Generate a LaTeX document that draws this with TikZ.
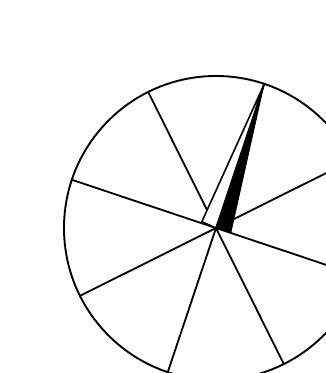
\documentclass[tikz,border=0pt]{standalone}
\usetikzlibrary{calc}
\begin{document}
\begin{tikzpicture}[
  x=1pt, y=1pt,
  rim/.style={line width=1.9pt, draw=black},
  spoke/.style={line width=1.8pt, draw=black},
  needlew/.style={fill=white, draw=black, line width=1.6pt, line join=miter},
  needleb/.style={fill=black, draw=black, line width=0.8pt, line join=miter}
]

%% ── Marco ────────────────────────────────────────────────────────────────
\useasboundingbox (0,0) rectangle (326,-373);
\clip (0,0) rectangle (326,-373);

%% ── Rueda ────────────────────────────────────────────────────────────────
\coordinate (c) at (216,-228);
\fill[white] (c) circle (152);

%% radios cada 45 grados
\foreach \a in {26.5,71.5,...,341.5}
  \draw[spoke] (c) -- ($(c)+(\a:152)$);

\draw[rim] (c) circle (152);

%% ── Aguja ────────────────────────────────────────────────────────────────
\coordinate (tip)  at ($(c)+(71.5:151)$);
\coordinate (bl)   at ($(c)+(156:15.5)$);
\coordinate (br)   at ($(c)+(-14:15.5)$);

\draw[needlew] (tip) -- (bl) -- (c) -- cycle;
\draw[needleb] (tip) -- (c) -- (br) -- cycle;

\end{tikzpicture}
\end{document}
